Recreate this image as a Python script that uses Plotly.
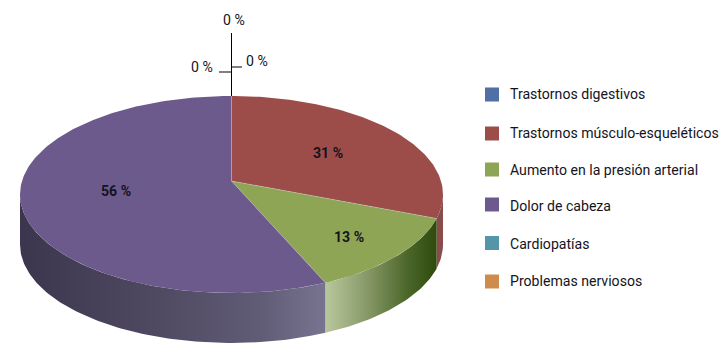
import math
import plotly.graph_objects as go

categories = ["Trastornos digestivos", "Trastornos músculo-esqueléticos",
              "Aumento en la presión arterial", "Dolor de cabeza",
              "Cardiopatías", "Problemas nerviosos"]
values = [0, 31, 12.6, 56.4, 0, 0]
colors = ["#4f6fa5", "#9c4d49", "#8fa556", "#6d5a8c", "#5495aa", "#cf8b4c"]

FONT = "Roboto"
APEX_X, APEX_Y, A, B, K, DEPTH = 231.5, 181, 209.5, 96.65, 0.137, 50


def project(theta):
    X, Y = math.sin(theta), math.cos(theta)
    w = 1 + K * Y
    return APEX_X + A * X / w, APEX_Y - B * Y / w


def arc(t0, t1):
    n = max(2, int(abs(t1 - t0) * 60))
    return [project(t0 + (t1 - t0) * i / n) for i in range(n + 1)]


side_style = {
    1: dict(fillcolor="#8a4c4a"),
    2: dict(fillgradient=dict(type="horizontal",
            colorscale=[[0, "#b9c89c"], [0.35, "#8b9c6c"], [0.75, "#4a6528"], [1, "#2f4a0c"]])),
    3: dict(fillgradient=dict(type="horizontal",
            colorscale=[[0, "#3c354e"], [0.45, "#4f4962"], [0.8, "#625d77"], [1, "#787390"]])),
}

fig = go.Figure()
total = sum(values)
spans = []
cum = 0
for i, v in enumerate(values):
    t0 = 2 * math.pi * cum / total
    cum += v
    t1 = 2 * math.pi * cum / total
    spans.append((t0, t1))

# extruded side walls: only the part of the rim that faces the viewer
front_start = math.acos(-K)
front_end = 2 * math.pi - front_start
for i, v in enumerate(values):
    if v <= 0:
        continue
    t0, t1 = max(spans[i][0], front_start), min(spans[i][1], front_end)
    if t1 <= t0:
        continue
    pts = arc(t0, t1)
    xs = [p[0] for p in pts] + [p[0] for p in reversed(pts)]
    ys = [p[1] for p in pts] + [p[1] + DEPTH for p in reversed(pts)]
    fig.add_trace(go.Scatter(x=xs + xs[:1], y=ys + ys[:1], mode="lines", fill="toself",
                             line=dict(width=0), hoverinfo="skip", showlegend=False,
                             **side_style[i]))

# top face
for i, v in enumerate(values):
    if v <= 0:
        continue
    pts = arc(*spans[i])
    xs = [APEX_X] + [p[0] for p in pts] + [APEX_X]
    ys = [APEX_Y] + [p[1] for p in pts] + [APEX_Y]
    fig.add_trace(go.Scatter(x=xs, y=ys, mode="lines", fill="toself", fillcolor=colors[i],
                             line=dict(width=0), hoverinfo="skip", showlegend=False))

# faint seams between the slices
for i, v in enumerate(values):
    if v <= 0:
        continue
    ex, ey = project(spans[i][1])
    fig.add_trace(go.Scatter(x=[APEX_X, ex], y=[APEX_Y, ey], mode="lines",
                             line=dict(width=0.6, color="rgba(215,215,225,0.55)"),
                             hoverinfo="skip", showlegend=False))

# leader lines for the zero slices
for lx, ly in [([231.5, 231.5], [33, 96]), ([219, 231.5], [72, 72]), ([231.5, 242], [67, 67])]:
    fig.add_trace(go.Scatter(x=lx, y=ly, mode="lines", line=dict(color="#000000", width=1),
                             hoverinfo="skip", showlegend=False))

# legend swatches
legend_y = [94.5, 133.5, 169.5, 204.5, 243, 281.5]
fig.add_trace(go.Scatter(x=[492] * 6, y=legend_y, mode="markers",
                         marker=dict(symbol="square", size=14, color=colors, line=dict(width=0)),
                         hoverinfo="skip", showlegend=False))

annotations = []
for name, y in zip(categories, [94, 133, 170, 206, 244, 281]):
    annotations.append(dict(x=507.5, y=y, text=name, xanchor="left", yanchor="middle", showarrow=False,
                            font=dict(family=FONT, size=14.1, color="#14141e")))

label_pos = [(257, 61), (328, 153), (349, 237), (116, 191), (202, 67), (234, 20)]
for v, (x, y) in zip(values, label_pos):
    txt = f"{round(v)} %"
    if v > 0:
        txt = f"<b>{txt}</b>"
    annotations.append(dict(x=x, y=y, text=txt, xanchor="center", yanchor="middle", showarrow=False,
                            font=dict(family=FONT, size=14.1, color="#14141e")))

fig.update_layout(
    width=727, height=356, margin=dict(l=0, r=0, t=0, b=0),
    paper_bgcolor="white", plot_bgcolor="white", showlegend=False,
    xaxis=dict(range=[0, 727], visible=False, fixedrange=True),
    yaxis=dict(range=[356, 0], visible=False, fixedrange=True),
    annotations=annotations,
)
fig.write_html("out.html", config={"displayModeBar": False},
               post_script="document.body.style.margin='0';document.documentElement.style.overflow='hidden';")
